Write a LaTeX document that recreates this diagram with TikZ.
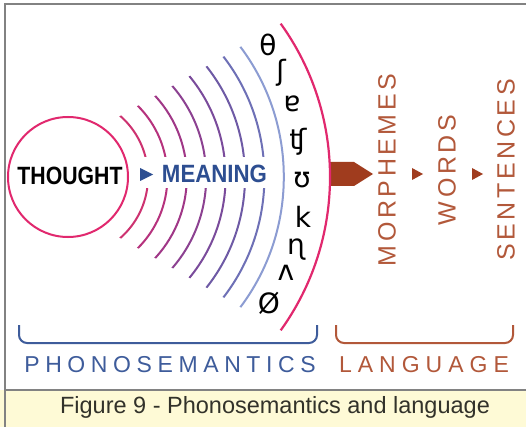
\documentclass[tikz,border=0pt]{standalone}
\usepackage{fontspec}
\setmainfont{Liberation Sans}
\newfontfamily\ipafont{DejaVu Sans}
\makeatletter
\newcommand\spc[2]{\def\spc@k{#1}\spc@loop#2\relax}
\def\spc@loop#1{\ifx#1\relax\kern-\spc@k\relax\else#1\kern\spc@k\relax\expandafter\spc@loop\fi}
\makeatother
\definecolor{framegray}{RGB}{130,130,130}
\definecolor{bandyellow}{RGB}{254,250,214}
\definecolor{pinkc}{RGB}{225,40,110}
\definecolor{arcA}{RGB}{205,50,112}
\definecolor{arcB}{RGB}{182,50,125}
\definecolor{arcC}{RGB}{160,55,135}
\definecolor{arcD}{RGB}{140,65,145}
\definecolor{arcE}{RGB}{122,75,155}
\definecolor{arcF}{RGB}{110,90,165}
\definecolor{arcG}{RGB}{110,112,182}
\definecolor{arcH}{RGB}{140,156,210}
\definecolor{meaningblue}{RGB}{45,78,145}
\definecolor{phonoblue}{RGB}{62,92,155}
\definecolor{arrowbrown}{RGB}{160,60,30}
\definecolor{langbrown}{RGB}{178,88,58}
\definecolor{captiontext}{RGB}{50,50,42}
\tikzset{
  arcline/.style={line width=2pt},
  ipachar/.style={font=\ipafont\fontsize{28}{28}\selectfont, inner sep=0pt, text=black},
  bigbold/.style={font=\bfseries\fontsize{25}{25}\selectfont, inner sep=0pt},
  vertword/.style={rotate=90, font=\fontsize{25}{25}\selectfont, text=langbrown, inner sep=0pt},
  bracket/.style={line width=2pt, rounded corners=8pt},
  smalltri/.style={fill=arrowbrown}
}
\begin{document}
\begin{tikzpicture}[x=1pt,y=-1pt]
\useasboundingbox (0,0) rectangle (526,427);
\fill[white] (0,0) rectangle (526,427);
\fill[bandyellow] (0,390) rectangle (526,427);
\draw[framegray, line width=2pt] (5,427) -- (5,4) -- (526,4);
\draw[framegray, line width=1.8pt] (5,390) -- (526,390);

% brown arrow (behind the outer arc)
\fill[arrowbrown] (329,162) -- (354,162) -- (373,174) -- (354,186) -- (329,186) -- cycle;

% concentric arcs
\begin{scope}
  \clip (14,177) -- (540,479.4) -- (540,-125.4) -- cycle;
  \foreach \r/\c in {81/arcA,100.4/arcB,119.8/arcC,139.2/arcD,158.6/arcE,178/arcF,197.4/arcG,216.8/arcH}
    \draw[arcline, \c] (67,177) circle[radius=\r];
  \draw[pinkc, line width=2.2pt] (67,177) circle[radius=263];
\end{scope}
\fill[white] (131,157) rectangle (274,188);

% thought circle
\node[circle, draw=pinkc, line width=2pt, minimum size=120pt, inner sep=0pt] (circ) at (68,177) {};
\node[bigbold, xscale=0.85] (thought) at (70,176) {THOUGHT};
\fill[meaningblue] (140,168) -- (153,174.5) -- (140,181) -- cycle;
\node[bigbold, xscale=0.89, text=meaningblue] (meaning) at (214.5,174) {MEANING};

% phonemes
\node[ipachar] (p1) at (268,45) {θ};
\node[ipachar] (p2) at (281,73) {ʃ};
\node[ipachar] (p3) at (292,104) {ɐ};
\node[ipachar] (p4) at (298,142) {ʧ};
\node[ipachar] (p5) at (302,180) {ʊ};
\node[ipachar] (p6) at (303,217) {k};
\node[ipachar] (p7) at (296,250) {ɳ};
\node[ipachar] (p8) at (286,273) {ʌ};
\node[ipachar] (p9) at (269,303) {Ø};

% language column
\node[vertword] (morph) at (387,170) {\spc{3.6pt}{MORPHEMES}};
\fill[arrowbrown] (412,168) -- (423,174) -- (412,180) -- cycle;
\node[vertword] (words) at (447,170) {\spc{3.6pt}{WORDS}};
\fill[arrowbrown] (472,168) -- (483,174) -- (472,180) -- cycle;
\node[vertword] (sent) at (506,170) {\spc{3.6pt}{SENTENCES}};

% brackets
\draw[bracket, phonoblue] (19,325) -- (19,343) -- (317,343) -- (317,325);
\draw[bracket, langbrown] (336,325) -- (336,343) -- (513,343) -- (513,325);
\node[font=\fontsize{23}{23}\selectfont, text=phonoblue, inner sep=0pt] (phono) at (170,365) {\spc{5.6pt}{PHONOSEMANTICS}};
\node[font=\fontsize{23}{23}\selectfont, text=langbrown, inner sep=0pt] (lang) at (424,365) {\spc{6pt}{LANGUAGE}};

% caption
\node[font=\fontsize{23.5}{23.5}\selectfont, text=captiontext, inner sep=0pt] (cap) at (275,407) {Figure 9 - Phonosemantics and language};
\end{tikzpicture}
\end{document}
